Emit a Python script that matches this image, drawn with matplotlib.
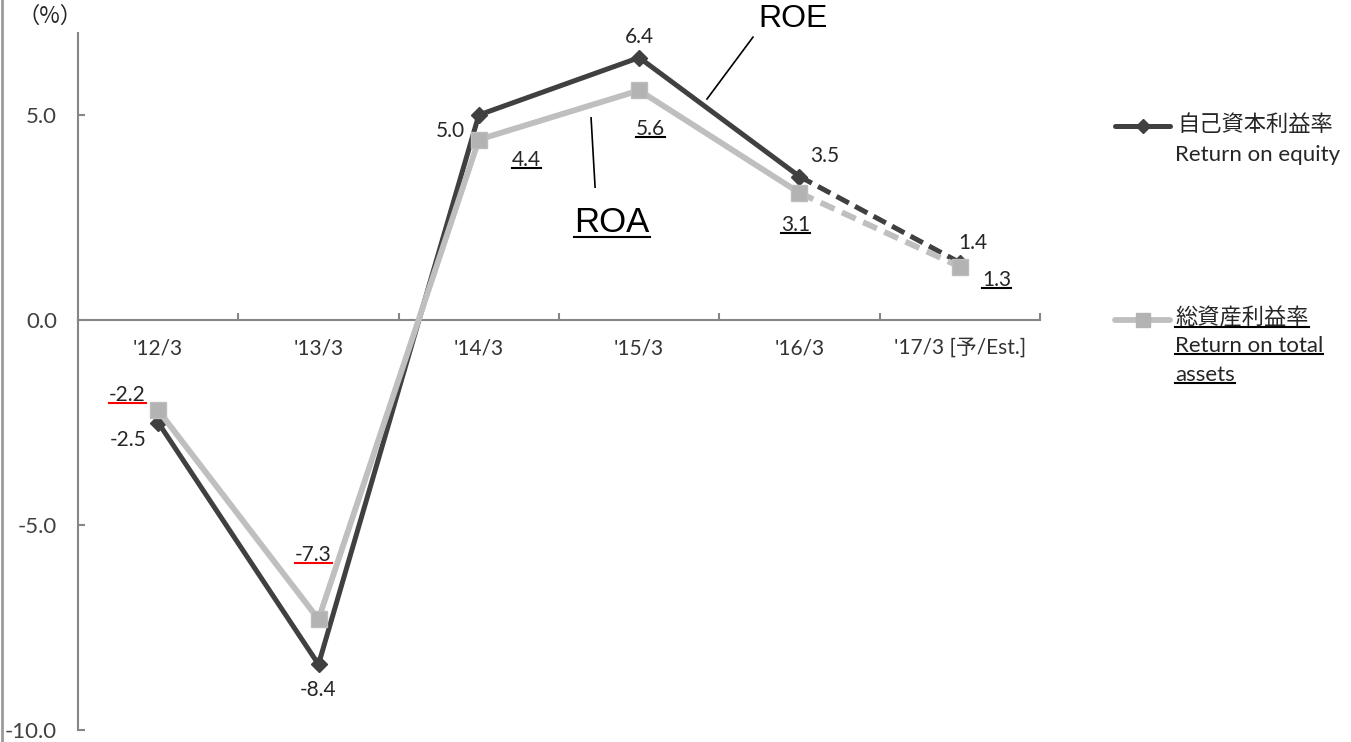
import matplotlib
matplotlib.use("Agg")
import matplotlib.pyplot as plt
from matplotlib.lines import Line2D

plt.rcParams['font.family'] = ['Lato', 'Noto Sans CJK JP', 'DejaVu Sans']

# data
periods = ["'12/3", "'13/3", "'14/3", "'15/3", "'16/3", "'17/3 [予/Est.]"]
roe = [-2.5, -8.4, 5.0, 6.4, 3.5, 1.4]
roa = [-2.2, -7.3, 4.4, 5.6, 3.1, 1.3]
yticks = [-10.0, -5.0, 0.0, 5.0]

# label offsets in pixels (dx, dy)
roe_off = [(-30, -17), (0, -26), (-28, -16), (0, 21), (25, 21), (13, 20)]
roa_off = [(-31, 15), (-5, 64), (48, -20), (11, -39), (-4, -32), (37, -13)]
roa_red = [True, True, False, False, False, False]

DARK = '#404040'
LIGHT = '#bfbfbf'
TXT = '#262626'

W, H = 1351, 742
fig = plt.figure(figsize=(W / 100, H / 100), dpi=100)
ax = fig.add_axes([78 / W, 12 / H, (1040 - 78) / W, (730 - 33) / H])

x = list(range(len(periods)))

# lines: solid for actuals, dashed for estimate
ax.plot(x[:5], roe[:5], color=DARK, lw=3.6, zorder=2, solid_capstyle='round')
ax.plot(x[4:], roe[4:], color=DARK, lw=3.6, zorder=2, dashes=(2.8, 1.4))
ax.plot(x, roe, ls='none', marker='D', ms=8, color=DARK, zorder=3)
ax.plot(x[:5], roa[:5], color=LIGHT, lw=4.2, zorder=4, solid_capstyle='round')
ax.plot(x[4:], roa[4:], color=LIGHT, lw=4.2, zorder=4, dashes=(2.6, 1.4))
ax.plot(x, roa, ls='none', marker='s', ms=12, mfc='#b3b3b3', mec='#bdbdbd',
        mew=1, zorder=5)

ax.set_xlim(-0.5, len(periods) - 0.5)
ax.set_ylim(-10, 7)

for s in ['top', 'right']:
    ax.spines[s].set_visible(False)
for s in ['left', 'bottom']:
    ax.spines[s].set_color('#868686')
    ax.spines[s].set_linewidth(1.5)
ax.spines['bottom'].set_position(('data', 0))

ax.set_xticks(x)
ax.set_xticklabels(periods)
ax.set_xticks([i + 0.5 for i in x], minor=True)
ax.tick_params(axis='x', which='major', length=0, pad=13, labelsize=15,
               labelcolor='#333333')
ax.tick_params(axis='x', which='minor', direction='in', length=5,
               width=1.5, color='#868686')
ax.set_yticks(yticks)
ax.set_yticklabels(['%.1f' % v for v in yticks])
ax.tick_params(axis='y', direction='in', length=5, width=1.5, color='#868686',
               pad=15, labelsize=16, labelcolor='#404040')

# data labels
under = []
for i in x:
    ax.annotate('%.1f' % roe[i], (i, roe[i]), xytext=roe_off[i],
                textcoords='offset pixels', ha='center', va='center',
                fontsize=15, color=TXT, zorder=6)
    t = ax.annotate('%.1f' % roa[i], (i, roa[i]), xytext=roa_off[i],
                    textcoords='offset pixels', ha='center', va='center',
                    fontsize=15, color=TXT, zorder=6)
    under.append((t, 'red' if roa_red[i] else 'black'))

# callouts
ax.plot([3.71, 3.423], [6.90, 5.39], color='black', lw=1.2)
ax.text(3.96, 7.15, 'ROE', ha='center', va='baseline', fontsize=23,
        family='Liberation Sans', color='black', clip_on=False)
ax.plot([2.70, 2.725], [4.93, 3.24], color='black', lw=1.2)
t = ax.text(2.83, 2.15, 'ROA', ha='center', va='baseline', fontsize=25,
            family='Liberation Sans', color='black')
under.append((t, 'black'))

# unit
fig.text(50 / W, 1 - 16 / H, '（%）', ha='center', va='center', fontsize=16,
         color=TXT, family=['Noto Sans CJK JP'])

# left border of the slide
fig.add_artist(Line2D([1.5 / W, 1.5 / W], [0, 1], transform=fig.transFigure,
                      color='#9a9a9a', lw=2))

# legend
def px(xp, yp):
    return xp / W, 1 - yp / H

for yp, col, mk, ms, lw, mfc in [(126, DARK, 'D', 7, 3.6, DARK),
                                 (320, LIGHT, 's', 10, 4.2, '#b3b3b3')]:
    (x0, y0), (x1, _) = px(1115, yp), px(1170, yp)
    fig.add_artist(Line2D([x0, x1], [y0, y0], transform=fig.transFigure,
                          color=col, lw=lw, solid_capstyle='round'))
    fig.add_artist(Line2D([(x0 + x1) / 2], [y0], transform=fig.transFigure,
                          marker=mk, ms=ms, color=mfc, ls='none'))

fig.text(*px(1177, 125), '自己資本利益率', ha='left', va='center', fontsize=16,
         color=TXT)
fig.text(*px(1175, 155), 'Return on equity', ha='left', va='center',
         fontsize=16, color=TXT)
for yp, s in [(318, '総資産利益率'), (346, 'Return on total'), (375, 'assets')]:
    t = fig.text(*px(1175, yp), s, ha='left', va='center', fontsize=16,
                 color=TXT)
    under.append((t, 'black'))

# underlines
fig.canvas.draw()
r = fig.canvas.get_renderer()
for t, c in under:
    bb = t.get_window_extent(r)
    yy = (bb.y0 + 2) / H
    fig.add_artist(Line2D([bb.x0 / W, bb.x1 / W], [yy, yy],
                          transform=fig.transFigure, color=c, lw=1.5))

fig.savefig('out.png', dpi=100)
